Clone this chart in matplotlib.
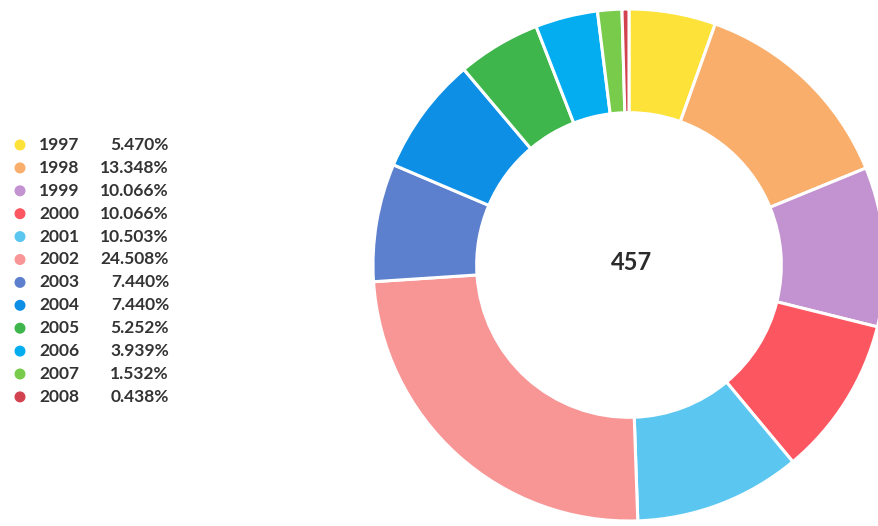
import matplotlib.pyplot as plt
from matplotlib.transforms import IdentityTransform

plt.rcParams['font.family'] = ['Lato', 'DejaVu Sans']

years = ["1997", "1998", "1999", "2000", "2001", "2002",
         "2003", "2004", "2005", "2006", "2007", "2008"]
counts = [25, 61, 46, 46, 48, 112, 34, 34, 24, 18, 7, 2]
shares = ["5.470%", "13.348%", "10.066%", "10.066%", "10.503%", "24.508%",
          "7.440%", "7.440%", "5.252%", "3.939%", "1.532%", "0.438%"]
colors = ["#fde23a", "#f9ae6c", "#c392d0", "#fc5660", "#5bc7f0", "#f89696",
          "#5c80cd", "#0e8fe6", "#3eb64b", "#04adf0", "#79cb4b", "#d2424f"]
total = 457

W, H = 879, 526
fig = plt.figure(figsize=(W / 100, H / 100), dpi=100)

# donut axes, placed in pixels
cx, cy, r = 629, 265, 256
ax = fig.add_axes([(cx - r) / W, (H - cy - r) / H, 2 * r / W, 2 * r / H])
ax.pie(counts, colors=colors, startangle=90, counterclock=False, radius=1,
       wedgeprops=dict(width=0.405, edgecolor="white", linewidth=2.2))
ax.set_xlim(-1, 1)
ax.set_ylim(-1, 1)
ax.set_aspect("equal")
ax.axis("off")
ax.text(0.01, 0.01, str(total), ha="center", va="center", fontsize=17,
        fontweight="bold", color="#2b2b2b")

# legend drawn by hand
y0, dy = 145, 22.9
for i, (yr, sh, c) in enumerate(zip(years, shares, colors)):
    yy = H - (y0 + i * dy)
    fig.add_artist(plt.Circle((20, yy), 4.8, color=c, transform=IdentityTransform()))
    fig.text(39 / W, yy / H, yr, ha="left", va="center", fontsize=12.5,
             fontweight="bold", color="#333333")
    fig.text(169 / W, yy / H, sh, ha="right", va="center", fontsize=12.5,
             fontweight="bold", color="#333333")

fig.savefig("out.png", dpi=100)
